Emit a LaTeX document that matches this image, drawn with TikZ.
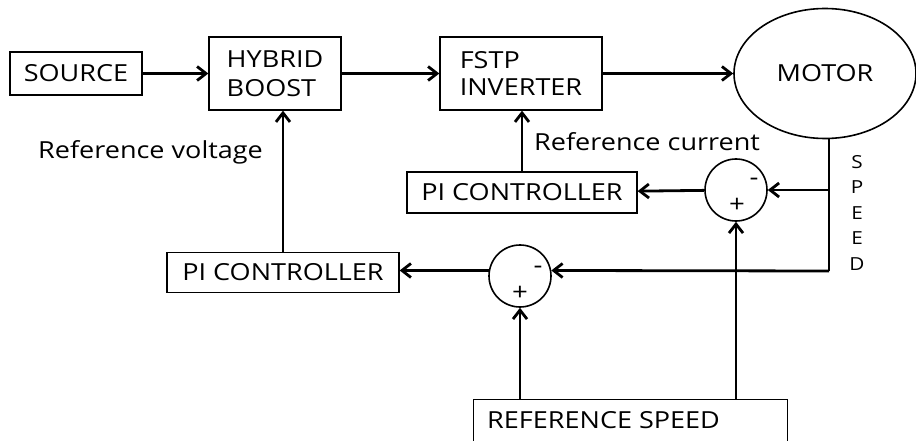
\documentclass[tikz,border=0pt]{standalone}
\usepackage{fontspec}
\setmainfont[FakeStretch=1.15]{Open Sans}
\usetikzlibrary{arrows.meta,shapes.geometric}
\begin{document}
\begin{tikzpicture}[x=1pt,y=-1pt,
  blk/.style={draw, line width=1.3pt, inner sep=0pt, font=\fontsize{23.5}{29}\selectfont},
  sumj/.style={draw, circle, line width=1.6pt, minimum size=62pt, inner sep=0pt},
  conn/.style={line width=2.8pt, -{Straight Barb[length=9pt,width=14pt]}},
  wire/.style={line width=2.8pt},
  lbl/.style={font=\fontsize{23.5}{29}\selectfont, inner sep=0pt},
  sgn/.style={font=\fontsize{24}{26}\selectfont, inner sep=0pt}]
\useasboundingbox (0,0) rectangle (916,441);
\clip (0,0) rectangle (916,441);

\node[blk, minimum width=132pt, minimum height=43pt] (src) at (76,73.5) {SOURCE};
\node[blk, minimum width=132pt, minimum height=73pt, align=left] (hb) at (275,73.5) {HYBRID\\BOOST};
\node[blk, minimum width=162pt, minimum height=73pt, align=left, font=\fontsize{23.5}{27.5}\selectfont] (inv) at (521,73.5) {FSTP\\INVERTER};
\node[draw, ellipse, line width=1.6pt, minimum width=182pt, minimum height=130pt, inner sep=0pt, font=\fontsize{23.5}{29}\selectfont] (motor) at (825,73.5) {MOTOR};

\node[blk, minimum width=230pt, minimum height=41pt] (pi1) at (522,192.5) {PI CONTROLLER};
\node[blk, minimum width=232pt, minimum height=40pt] (pi2) at (283,272.5) {PI CONTROLLER};

\node[sumj] (s1) at (736,190) {};
\node[sumj] (s2) at (520,276) {};
\node[sgn] (s1m) at (754,182) {-};
\node[sgn] (s1p) at (737,205) {+};
\node[sgn] (s2m) at (538,270) {-};
\node[sgn] (s2p) at (520,293) {+};

\node[draw, line width=1.3pt, minimum width=314pt, minimum height=60pt, anchor=north west, inner sep=0pt] (ref) at (473,399) {};
\node[lbl, anchor=west] (reft) at (487,420) {REFERENCE SPEED};

\node[lbl, anchor=base west] (rv) at (38,159) {Reference voltage};
\node[lbl, anchor=base west] (rc) at (534,150) {Reference current};
\node[align=center, inner sep=0pt, font=\fontsize{18}{25.5}\selectfont, anchor=north] (spd) at (857,155) {S\\P\\E\\E\\D};

\coordinate (sp) at (829,271);

\draw[conn] (src) -- (hb);
\draw[conn] (hb) -- (inv);
\draw[conn] (inv) -- (motor);
\draw[wire] (motor.south -| sp) -- (sp);
\draw[conn] (sp |- s1) -- (s1);
\draw[conn] (sp) -- (s2.10);
\draw[conn] (s1) -- (pi1);
\draw[conn] (s2.170) -- (pi2.east |- s2.170);
\draw[conn] (pi1.north) -- (pi1.north |- inv.south);
\draw[conn] (pi2.north) -- (pi2.north |- hb.south);
\draw[conn] (ref.north -| s2) -- (s2.south);
\draw[conn] (ref.north -| s1) -- (s1.south);
\end{tikzpicture}
\end{document}
